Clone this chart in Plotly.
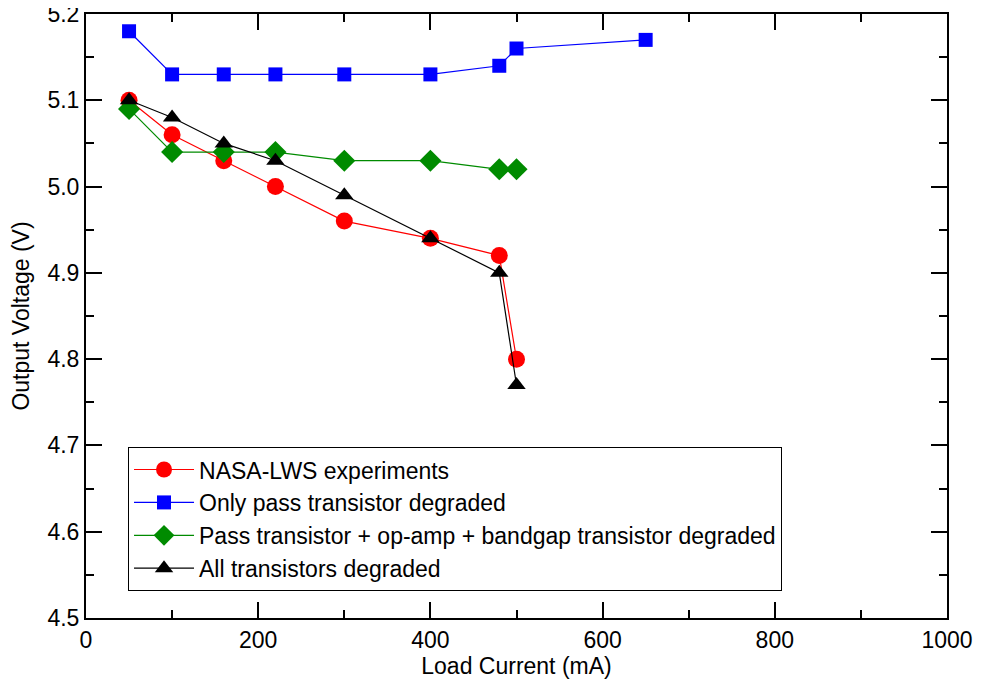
import plotly.graph_objects as go

# Data
x_nasa = [50, 100, 160, 220, 300, 400, 480, 500]
y_nasa = [5.10, 5.06, 5.03, 5.00, 4.96, 4.94, 4.92, 4.80]

x_pass = [50, 100, 160, 220, 300, 400, 480, 500, 650]
y_pass = [5.18, 5.13, 5.13, 5.13, 5.13, 5.13, 5.14, 5.16, 5.17]

x_opamp = [50, 100, 160, 220, 300, 400, 480, 500]
y_opamp = [5.09, 5.04, 5.04, 5.04, 5.03, 5.03, 5.02, 5.02]

x_all = [50, 100, 160, 220, 300, 400, 480, 500]
y_all = [5.10, 5.08, 5.05, 5.03, 4.99, 4.94, 4.90, 4.77]

names = [
    "NASA-LWS experiments",
    "Only pass transistor degraded",
    "Pass transistor + op-amp + bandgap transistor degraded",
    "All transistors degraded",
]

x_ticks = [0, 200, 400, 600, 800, 1000]
y_ticks = [4.5, 4.6, 4.7, 4.8, 4.9, 5.0, 5.1, 5.2]
y_ticktext = ["4.5", "4.6", "4.7", "4.8", "4.9", "5.0", "5.1", "5.2"]

FONT = "Liberation Sans, Arial, Helvetica, sans-serif"

fig = go.Figure()
series = [
    (x_nasa, y_nasa, names[0], "#ff0000", "circle", 17),
    (x_pass, y_pass, names[1], "#0000ff", "square", 14),
    (x_opamp, y_opamp, names[2], "#008b00", "diamond", 17),
    (x_all, y_all, names[3], "#000000", "triangle-up", 16),
]
for xs, ys, nm, col, sym, sz in series:
    fig.add_trace(go.Scatter(
        x=xs, y=ys, name=nm, mode="lines+markers",
        line=dict(color=col, width=1.2),
        marker=dict(color=col, symbol=sym, size=sz, line=dict(width=0)),
    ))

axis_common = dict(
    showline=True, linecolor="black", linewidth=2, mirror="allticks",
    ticks="inside", ticklen=16, tickwidth=2, tickcolor="black",
    showgrid=False, zeroline=False, automargin=False,
    ticklabeloverflow="allow",
    tickfont=dict(family=FONT, size=23, color="black"),
)

fig.update_xaxes(
    range=[0, 1000], tickmode="array", tickvals=x_ticks,
    minor=dict(dtick=100, ticks="inside", ticklen=8, tickwidth=2, tickcolor="black"),
    title=dict(text="Load Current (mA)", font=dict(family=FONT, size=23, color="black"), standoff=0),
    **axis_common,
)
fig.update_yaxes(
    range=[4.5, 5.2], tickmode="array", tickvals=y_ticks, ticktext=y_ticktext,
    minor=dict(dtick=0.05, ticks="inside", ticklen=8, tickwidth=2, tickcolor="black"),
    title=dict(text="Output Voltage (V)", font=dict(family=FONT, size=23, color="black"), standoff=14),
    **axis_common,
)

# page body has an 8px margin, so the figure is placed at (8, 8)
fig.update_layout(
    width=973, height=671,
    margin=dict(l=78, r=34, t=6, b=61),
    paper_bgcolor="white", plot_bgcolor="white",
    font=dict(family=FONT, size=23, color="black"),
    showlegend=True,
    legend=dict(
        x=0.0488, y=0.283, xanchor="left", yanchor="top",
        bordercolor="black", borderwidth=1, bgcolor="white",
        font=dict(family=FONT, size=23, color="black"),
        itemwidth=60, tracegroupgap=0,
    ),
)

fig.write_html("out.html")
